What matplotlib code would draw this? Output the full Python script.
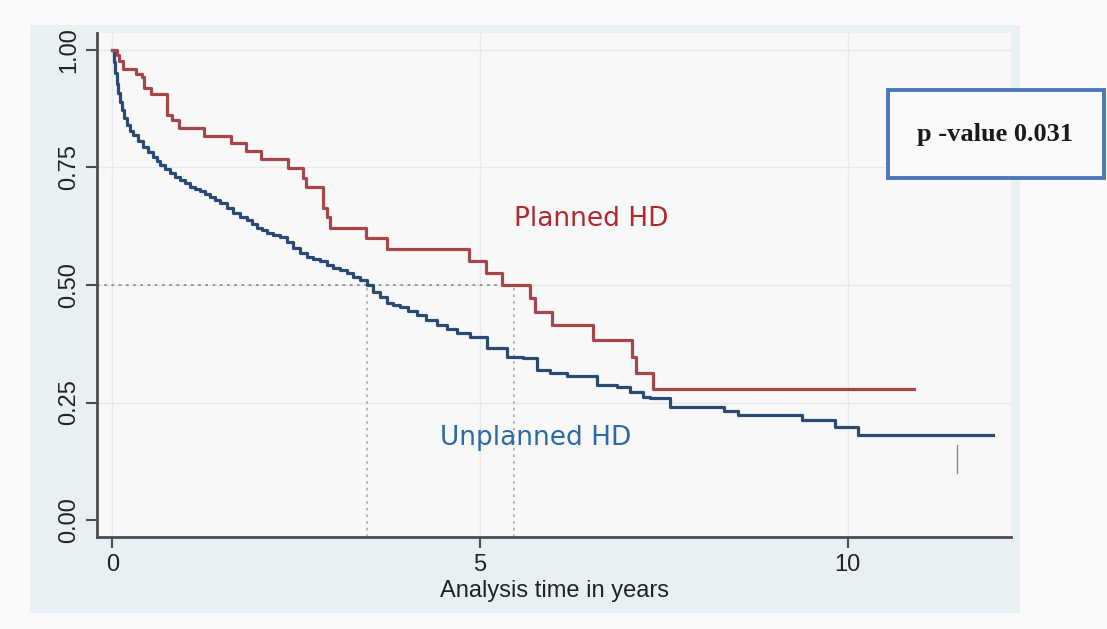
import matplotlib
matplotlib.use("Agg")
import matplotlib.pyplot as plt
from matplotlib.patches import Rectangle

# Kaplan-Meier estimates
planned_t = [0, 0.057, 0.088, 0.139, 0.320, 0.397, 0.429, 0.520, 0.737, 0.805, 0.909,
             1.245, 1.612, 1.816, 2.016, 2.392, 2.596, 2.633, 2.868, 2.914, 2.959,
             3.449, 3.731, 4.844, 5.086, 5.295, 5.680, 5.748, 5.976, 6.533, 7.064,
             7.122, 7.350, 10.90]
planned_s = [1.0, 0.989, 0.977, 0.959, 0.948, 0.942, 0.918, 0.906, 0.862, 0.850, 0.833,
             0.816, 0.801, 0.786, 0.767, 0.748, 0.727, 0.709, 0.663, 0.645, 0.622,
             0.599, 0.576, 0.550, 0.525, 0.500, 0.472, 0.443, 0.415, 0.383, 0.347,
             0.312, 0.278, 0.278]

unplanned_t = [0, 0.020, 0.034, 0.057, 0.079, 0.102, 0.125, 0.156, 0.193, 0.238, 0.283,
               0.351, 0.419, 0.487, 0.555, 0.601, 0.646, 0.714, 0.782, 0.850, 0.918,
               0.986, 1.054, 1.122, 1.190, 1.259, 1.327, 1.395, 1.463, 1.553, 1.644,
               1.735, 1.826, 1.894, 1.962, 2.030, 2.098, 2.188, 2.279, 2.370, 2.460,
               2.551, 2.642, 2.732, 2.823, 2.914, 3.004, 3.095, 3.186, 3.277, 3.367,
               3.459, 3.548, 3.640, 3.731, 3.820, 3.912, 4.020, 4.139, 4.270, 4.411,
               4.550, 4.683, 4.864, 5.091, 5.363, 5.589, 5.771, 5.952, 6.180, 6.588,
               6.860, 7.041, 7.222, 7.313, 7.585, 8.320, 8.501, 9.377, 9.830, 10.133,
               11.98]
unplanned_s = [1.0, 0.975, 0.950, 0.928, 0.908, 0.889, 0.872, 0.855, 0.840, 0.828, 0.819,
               0.806, 0.794, 0.783, 0.773, 0.764, 0.755, 0.746, 0.738, 0.730, 0.723,
               0.716, 0.709, 0.704, 0.699, 0.693, 0.688, 0.681, 0.674, 0.663, 0.653,
               0.645, 0.638, 0.630, 0.621, 0.616, 0.611, 0.606, 0.603, 0.591, 0.578,
               0.569, 0.560, 0.555, 0.550, 0.543, 0.536, 0.531, 0.525, 0.518, 0.511,
               0.500, 0.486, 0.475, 0.461, 0.457, 0.454, 0.445, 0.436, 0.426, 0.415,
               0.406, 0.397, 0.390, 0.365, 0.347, 0.344, 0.319, 0.312, 0.306, 0.287,
               0.282, 0.273, 0.262, 0.259, 0.241, 0.233, 0.223, 0.213, 0.199, 0.182,
               0.182]

medians = [3.46, 5.46]
censor_t = 11.48
censor_s = [0.100, 0.160]

x_ticks = [0, 5, 10]
y_ticks = [0.00, 0.25, 0.50, 0.75, 1.00]
y_labels = ["0.00", "0.25", "0.50", "0.75", "1.00"]

W, H = 1107, 629
fig = plt.figure(figsize=(W / 100, H / 100), dpi=100)
fig.patch.set_facecolor("#fafafa")

# outer light-blue panel
fig.patches.append(Rectangle((30 / W, 1 - 613 / H), 990 / W, 588 / H,
                             transform=fig.transFigure, facecolor="#e8f0f3",
                             edgecolor="none", zorder=0))

ax = fig.add_axes([97 / W, 1 - 537 / H, 914 / W, 504 / H])
ax.set_facecolor("#f8f8f8")
ax.set_zorder(1)

ax.set_xlim(-0.21, 12.22)
ax.set_ylim(-0.036, 1.036)

for y in y_ticks[1:]:
    ax.axhline(y, color="#e3e9ec", lw=1, zorder=1)
for x in x_ticks:
    ax.axvline(x, color="#e3e9ec", lw=1, zorder=1)

# median reference lines
ax.plot([-0.21, medians[1]], [0.5, 0.5], color="#8f8f8f", lw=1.3, ls=(0, (1.5, 2.5)), zorder=2)
for m in medians:
    ax.plot([m, m], [-0.036, 0.5], color="#a8a8a8", lw=1.2, ls=(0, (1.5, 2.5)), zorder=2)

ax.plot(unplanned_t, unplanned_s, drawstyle="steps-post", color="#2a4a72", lw=2.3, zorder=3)
ax.plot(planned_t, planned_s, drawstyle="steps-post", color="#a6454a", lw=2.3, zorder=3)
ax.plot([censor_t, censor_t], censor_s, color="#8c8c8c", lw=1, zorder=3)

ax.text(6.51, 0.64, "Planned HD", color="#b0292e", fontsize=19, ha="center", va="center",
        family="DejaVu Sans")
ax.text(5.75, 0.175, "Unplanned HD", color="#2b6aa6", fontsize=19, ha="center", va="center",
        family="DejaVu Sans")

for s in ["top", "right"]:
    ax.spines[s].set_visible(False)
for s in ["left", "bottom"]:
    ax.spines[s].set_color("#4d4d4d")
    ax.spines[s].set_linewidth(2)

ax.set_xticks(x_ticks)
ax.set_yticks(y_ticks)
ax.set_yticklabels(y_labels, rotation=90, va="center")
ax.tick_params(axis="both", length=8, width=1.5, color="#4d4d4d", labelsize=17,
               labelcolor="#222222", pad=4)
for lab in ax.get_xticklabels() + ax.get_yticklabels():
    lab.set_family("Liberation Sans")

ax.set_xlabel("Analysis time in years", fontsize=17, family="Liberation Sans",
              color="#222222", labelpad=3)

# p-value box
fig.patches.append(Rectangle((888 / W, 1 - 178 / H), 216 / W, 88 / H,
                             transform=fig.transFigure, facecolor="#fafafa",
                             edgecolor="#4b78b8", lw=2.8, zorder=5))
fig.text(995 / W, 1 - 135 / H, "p -value 0.031", fontsize=19, fontweight="bold",
         family="Liberation Serif", ha="center", va="center", color="#1a1a1a", zorder=6)

plt.savefig("out.png", dpi=100, facecolor=fig.get_facecolor())
